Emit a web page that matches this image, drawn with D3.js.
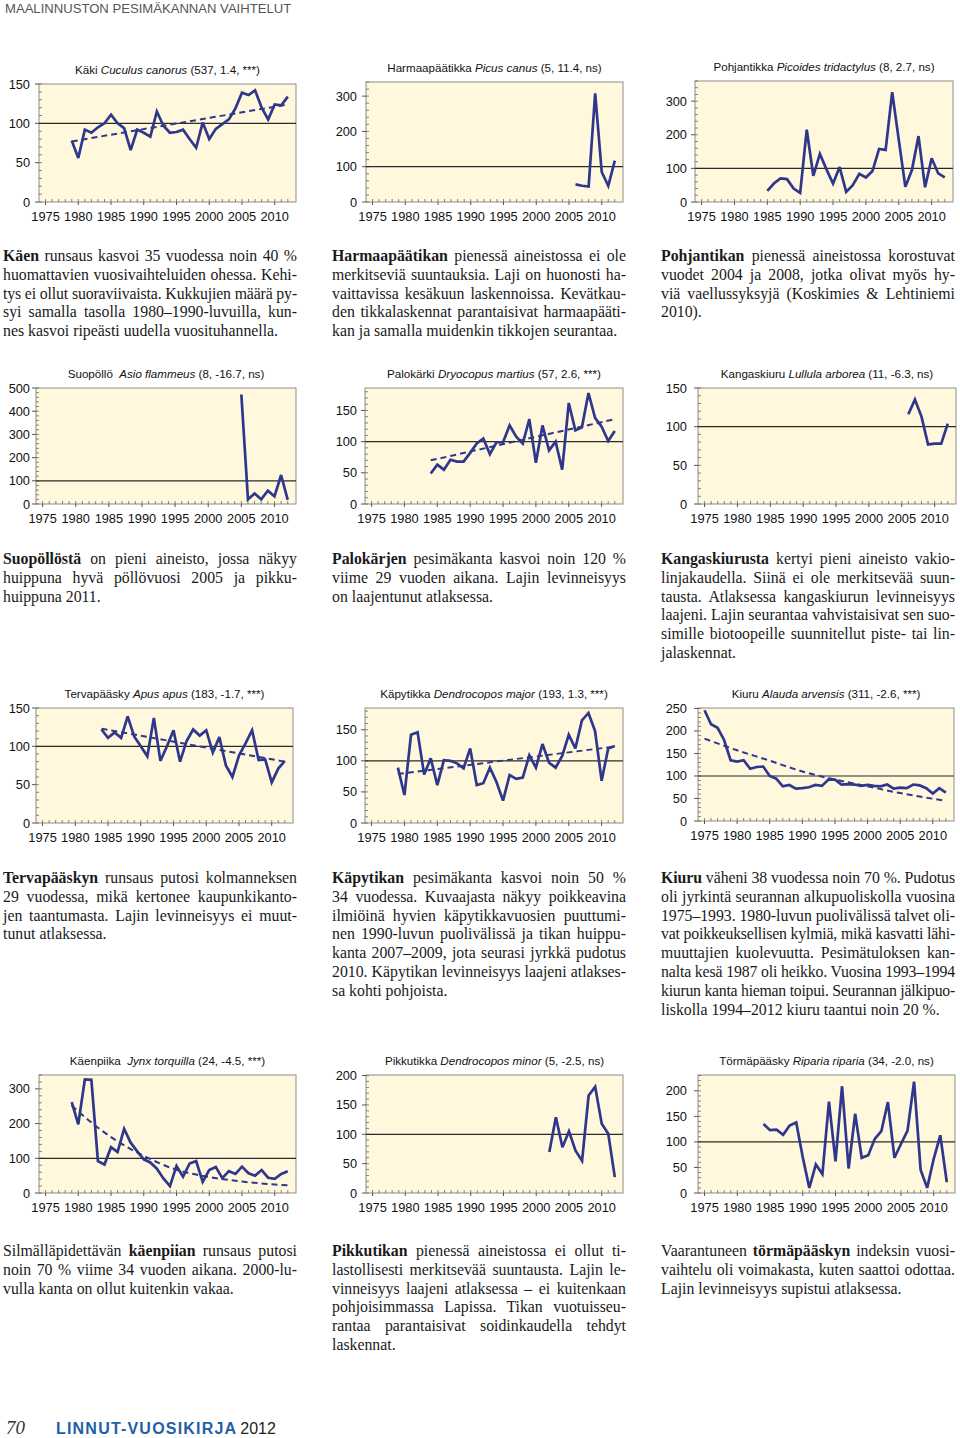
<!DOCTYPE html>
<html><head><meta charset="utf-8">
<script src="https://cdn.jsdelivr.net/npm/d3@7"></script>
<style>
body{margin:0;background:#fff;}
svg{display:block;}
</style></head><body>
<svg id="page" width="960" height="1438"></svg>
<script>
// ---------- DATA ----------
const tickYears = [1975, 1980, 1985, 1990, 1995, 2000, 2005, 2010];

const kakiStart = 1979;
const kakiValues = [78,56,92,88,95,100,111,100,94,66,92,88,83,115,97,88,89,92,80,69,101,80,93,99,105,119,139,136,142,120,105,124,123,134];
const kakiTrend = [[1979,77],[2012,124]];

const harmaaStart = 2006;
const harmaaValues = [50,46,44,308,85,46,117];

const pohjanStart = 1985;
const pohjanValues = [33,55,70,68,40,27,215,78,143,97,55,104,30,50,84,73,92,158,155,327,185,45,95,196,44,130,85,73];

const suopolloStart = 2005;
const suopolloValues = [472,20,45,20,57,33,125,18];

const palokarkiStart = 1984;
const palokarkiValues = [49,63,55,71,68,68,82,97,105,80,99,99,126,108,97,136,66,126,86,100,55,162,118,123,178,138,124,101,117];
const palokarkiTrend = [[1984,70],[2012,136]];

const kangasStart = 2006;
const kangasValues = [116,135,113,77,78,78,104];

const tervaStart = 1984;
const tervaValues = [122,111,118,111,139,113,100,87,137,81,100,121,80,107,122,114,121,92,112,75,60,88,104,121,82,83,53,71,81];
const tervaTrend = [[1984,123],[2012,80]];

const kapyStart = 1979;
const kapyValues = [89,45,142,146,78,104,61,101,100,96,88,120,61,64,89,66,36,77,71,73,109,89,127,97,89,108,142,120,165,177,148,68,120,124];
const kapyTrend = [[1979,79],[2012,123]];

const kiuruStart = 1975;
const kiuruValues = [246,215,207,180,135,132,135,116,120,121,100,94,77,80,72,73,75,80,78,92,92,81,82,81,78,80,78,77,81,72,74,73,81,79,73,61,73,63];
const kiuruTrend = [[1975,183],[1980,157],[1985,134],[1990,110],[1995,92],[2000,77],[2005,62],[2012,45]];

const kaenpiikaStart = 1979;
const kaenpiikaValues = [262,198,327,326,92,82,132,118,185,145,120,97,88,70,42,20,78,47,85,92,32,66,75,43,63,55,76,57,50,66,44,41,55,63];
const kaenpiikaTrend = [[1979,252],[1980,235],[1985,161],[1990,107],[1995,67],[2000,46],[2005,33],[2012,22]];

const pikkuStart = 2002;
const pikkuValues = [70,129,78,105,72,55,166,181,118,101,27];

const tormaStart = 1984;
const tormaValues = [135,123,124,114,132,138,70,10,56,37,179,62,209,48,155,69,74,106,121,178,69,96,122,218,45,10,67,113,21];

const titleNames = ["Käki","Harmaapäätikka","Pohjantikka","Suopöllö\u00a0","Palokärki","Kangaskiuru","Tervapääsky","Käpytikka","Kiuru","Käenpiika\u00a0","Pikkutikka","Törmäpääsky"];
const titleLatin = ["Cuculus canorus","Picus canus","Picoides tridactylus","Asio flammeus","Dryocopus martius","Lullula arborea","Apus apus","Dendrocopos major","Alauda arvensis","Jynx torquilla","Dendrocopos minor","Riparia riparia"];
const titleStats = ["(537, 1.4, ***)","(5, 11.4, ns)","(8, 2.7, ns)","(8, -16.7, ns)","(57, 2.6, ***)","(11, -6.3, ns)","(183, -1.7, ***)","(193, 1.3, ***)","(311, -2.6, ***)","(24, -4.5, ***)","(5, -2.5, ns)","(34, -2.0, ns)"];

const yTicks1 = [0,50,100,150];
const yTicks2 = [0,100,200,300];
const yTicks3 = [0,100,200,300,400,500];
const yTicks4 = [0,50,100,150,200,250];
const yTicks5 = [0,50,100,150,200];

const paraRow1 = [
 ["**Käen** runsaus kasvoi 35 vuodessa noin 40 %","huomattavien vuosivaihteluiden ohessa. Kehi-","tys ei ollut suoraviivaista. Kukkujien määrä py-","syi samalla tasolla 1980–1990-luvuilla, kun-","nes kasvoi ripeästi uudella vuosituhannella."],
 ["**Harmaapäätikan** pienessä aineistossa ei ole","merkitseviä suuntauksia. Laji on huonosti ha-","vaittavissa kesäkuun laskennoissa. Kevätkau-","den tikkalaskennat parantaisivat harmaapääti-","kan ja samalla muidenkin tikkojen seurantaa."],
 ["**Pohjantikan** pienessä aineistossa korostuvat","vuodet 2004 ja 2008, jotka olivat myös hy-","viä vaellussyksyjä (Koskimies & Lehtiniemi","2010)."]
];
const paraRow2 = [
 ["**Suopöllöstä** on pieni aineisto, jossa näkyy","huippuna hyvä pöllövuosi 2005 ja pikku-","huippuna 2011."],
 ["**Palokärjen** pesimäkanta kasvoi noin 120 %","viime 29 vuoden aikana. Lajin levinneisyys","on laajentunut atlaksessa."],
 ["**Kangaskiurusta** kertyi pieni aineisto vakio-","linjakaudella. Siinä ei ole merkitsevää suun-","tausta. Atlaksessa kangaskiurun levinneisyys","laajeni. Lajin seurantaa vahvistaisivat sen suo-","simille biotoopeille suunnitellut piste- tai lin-","jalaskennat."]
];
const paraRow3 = [
 ["**Tervapääskyn** runsaus putosi kolmanneksen","29 vuodessa, mikä kertonee kaupunkikanto-","jen taantumasta. Lajin levinneisyys ei muut-","tunut atlaksessa."],
 ["**Käpytikan** pesimäkanta kasvoi noin 50 %","34 vuodessa. Kuvaajasta näkyy poikkeavina","ilmiöinä hyvien käpytikkavuosien puuttumi-","nen 1990-luvun puolivälissä ja tikan huippu-","kanta 2007–2009, jota seurasi jyrkkä pudotus","2010. Käpytikan levinneisyys laajeni atlakses-","sa kohti pohjoista."],
 ["**Kiuru** väheni 38 vuodessa noin 70 %. Pudotus","oli jyrkintä seurannan alkupuoliskolla vuosina","1975–1993. 1980-luvun puolivälissä talvet oli-","vat poikkeuksellisen kylmiä, mikä kasvatti lähi-","muuttajien kuolevuutta. Pesimätuloksen kan-","nalta kesä 1987 oli heikko. Vuosina 1993–1994","kiurun kanta hieman toipui. Seurannan jälkipuo-","liskolla 1994–2012 kiuru taantui noin 20 %."]
];
const paraRow4 = [
 ["Silmälläpidettävän **käenpiian** runsaus putosi","noin 70 % viime 34 vuoden aikana. 2000-lu-","vulla kanta on ollut kuitenkin vakaa."],
 ["**Pikkutikan** pienessä aineistossa ei ollut ti-","lastollisesti merkitsevää suuntausta. Lajin le-","vinneisyys laajeni atlaksessa – ei kuitenkaan","pohjoisimmassa Lapissa. Tikan vuotuisseu-","rantaa parantaisivat soidinkaudella tehdyt","laskennat."],
 ["Vaarantuneen **törmäpääskyn** indeksin vuosi-","vaihtelu oli voimakasta, kuten saattoi odottaa.","Lajin levinneisyys supistui atlaksessa."]
];

// ---------- LAYOUT ----------
const charts = [
 {i:0, start:kakiStart, values:kakiValues, trend:kakiTrend, box:[39,84,296,202], yMax:150, ticks:yTicks1, minor:10, lx:30},
 {i:1, start:harmaaStart, values:harmaaValues, trend:null, box:[366,82,623,202], yMax:340, ticks:yTicks2, minor:20, lx:357},
 {i:2, start:pohjanStart, values:pohjanValues, trend:null, box:[695,81,953,202], yMax:360, ticks:yTicks2, minor:20, lx:687},
 {i:3, start:suopolloStart, values:suopolloValues, trend:null, box:[36,388,296,504], yMax:500, ticks:yTicks3, minor:20, lx:30},
 {i:4, start:palokarkiStart, values:palokarkiValues, trend:palokarkiTrend, box:[365,388,623,504], yMax:186, ticks:yTicks1, minor:10, lx:357},
 {i:5, start:kangasStart, values:kangasValues, trend:null, box:[698,388,956,504], yMax:150, ticks:yTicks1, minor:10, lx:687},
 {i:6, start:tervaStart, values:tervaValues, trend:tervaTrend, box:[36,708,293,823], yMax:150, ticks:yTicks1, minor:10, lx:30},
 {i:7, start:kapyStart, values:kapyValues, trend:kapyTrend, box:[365,708,623,823], yMax:185, ticks:yTicks1, minor:10, lx:357},
 {i:8, start:kiuruStart, values:kiuruValues, trend:kiuruTrend, box:[698,708,954,821], yMax:251, ticks:yTicks4, minor:10, lx:687},
 {i:9, start:kaenpiikaStart, values:kaenpiikaValues, trend:kaenpiikaTrend, box:[39,1075,296,1193], yMax:340, ticks:yTicks2, minor:20, lx:30},
 {i:10, start:pikkuStart, values:pikkuValues, trend:null, box:[366,1075,623,1193], yMax:201, ticks:yTicks5, minor:10, lx:357},
 {i:11, start:tormaStart, values:tormaValues, trend:null, box:[698,1075,955,1193], yMax:231, ticks:yTicks5, minor:10, lx:687}
];

const LINE = "#2e378c";
const svg = d3.select("#page");

// header
svg.append("text").attr("x",5).attr("y",13).attr("font-family","Liberation Sans, Arial, sans-serif")
  .attr("font-size",13.1).attr("fill","#555").text("MAALINNUSTON PESIMÄKANNAN VAIHTELUT");

charts.forEach(c => {
  const [x0,y0,x1,y1] = c.box;
  const g = svg.append("g");
  const x = d3.scaleLinear().domain([1974, 2013.25]).range([x0, x1]);
  const y = d3.scaleLinear().domain([0, c.yMax]).range([y1, y0]);
  const data = c.values.map((v,k) => ({year: c.start + k, v}));

  g.append("rect").attr("x",x0).attr("y",y0).attr("width",x1-x0).attr("height",y1-y0)
    .attr("fill","#fff8dc").attr("stroke","#8c8c8c").attr("stroke-width",1);

  const minors = d3.range(0, c.yMax + 0.01, c.minor);
  g.selectAll(".my").data(minors).join("line")
    .attr("x1",x0).attr("x2",x0+3).attr("y1",d=>y(d)).attr("y2",d=>y(d))
    .attr("stroke","#666").attr("stroke-width",0.8);
  g.selectAll(".My").data(c.ticks).join("line")
    .attr("x1",x0-4).attr("x2",x0).attr("y1",d=>y(d)).attr("y2",d=>y(d))
    .attr("stroke","#555").attr("stroke-width",1);
  g.selectAll(".yl").data(c.ticks).join("text")
    .attr("x",c.lx).attr("y",d=>y(d)+4.5).attr("text-anchor","end")
    .attr("font-family","Liberation Sans, Arial, sans-serif").attr("font-size",12.8).attr("fill","#111")
    .text(d=>d);

  const yrs = d3.range(1975, 2013);
  g.selectAll(".mx").data(yrs).join("line")
    .attr("x1",d=>x(d)).attr("x2",d=>x(d)).attr("y1",y1).attr("y2",y1-3)
    .attr("stroke","#666").attr("stroke-width",0.8);
  g.selectAll(".Mx").data(tickYears).join("line")
    .attr("x1",d=>x(d)).attr("x2",d=>x(d)).attr("y1",y1).attr("y2",y1+3)
    .attr("stroke","#555").attr("stroke-width",1);
  g.selectAll(".xl").data(tickYears).join("text")
    .attr("x",d=>x(d)).attr("y",y1+19).attr("text-anchor","middle")
    .attr("font-family","Liberation Sans, Arial, sans-serif").attr("font-size",12.8).attr("fill","#111")
    .text(d=>d);

  g.append("line").attr("x1",x0).attr("x2",x1).attr("y1",y(100)).attr("y2",y(100))
    .attr("stroke","#2a2a2a").attr("stroke-width",1.2);

  if (c.trend) {
    g.append("path").datum(c.trend)
      .attr("d", d3.line().x(d=>x(d[0])).y(d=>y(d[1])).curve(d3.curveMonotoneX))
      .attr("fill","none").attr("stroke",LINE).attr("stroke-width",2).attr("stroke-dasharray","6,4");
  }
  g.append("path").datum(data)
    .attr("d", d3.line().x(d=>x(d.year)).y(d=>y(d.v)))
    .attr("fill","none").attr("stroke",LINE).attr("stroke-width",2.7)
    .attr("stroke-linejoin","miter").attr("stroke-miterlimit",3);

  const t = g.append("text").attr("x",(x0+x1)/2).attr("y",y0-10).attr("text-anchor","middle")
    .attr("font-family","Liberation Sans, Arial, sans-serif").attr("font-size",11.6).attr("fill","#111")
    .style("white-space","pre");
  t.append("tspan").text(titleNames[c.i] + " ");
  t.append("tspan").attr("font-style","italic").text(titleLatin[c.i]);
  t.append("tspan").text(" " + titleStats[c.i]);
});

// paragraphs (justified line by line)
const colX = [3, 332, 661];
const colW = [294, 294, 294];
function drawPara(lines, col, baseY) {
  const lh = 18.8;
  lines.forEach((ln, k) => {
    const t = svg.append("text").attr("x", colX[col]).attr("y", baseY + k*lh)
      .attr("font-family","Liberation Serif, Times New Roman, serif").attr("font-size",15.8).attr("fill","#1a1a1a")
      .style("white-space","pre");
    const parts = ln.split("**");
    parts.forEach((p, j) => {
      if (!p) return;
      const s = t.append("tspan").text(p);
      if (j % 2 === 1) s.attr("font-weight","bold");
    });
    let len = t.node().getComputedTextLength();
    const nch = ln.replace(/\*\*/g,"").length;
    if (len > colW[col]) {
      // tighten letters first so word spaces stay natural
      const ls = (colW[col] - len) / (nch - 1);
      t.style("letter-spacing", ls + "px");
      len = t.node().getComputedTextLength();
    }
    if (k < lines.length - 1) {
      const spaces = (ln.match(/ /g) || []).length;
      if (spaces > 0) t.style("word-spacing", ((colW[col] - len) / spaces) + "px");
    }
  });
}
[paraRow1, paraRow2, paraRow3, paraRow4].forEach((row, r) => {
  const by = [261, 564, 883, 1256][r];
  row.forEach((lines, col) => drawPara(lines, col, by));
});

// footer
svg.append("text").attr("x",6).attr("y",1434).attr("font-family","Liberation Serif, serif").attr("font-style","italic")
  .attr("font-size",19).attr("fill","#333").text("70");
const f = svg.append("text").attr("x",56).attr("y",1434).attr("font-family","Liberation Sans, Arial, sans-serif").attr("font-size",16);
f.append("tspan").attr("font-weight","bold").attr("fill","#1f5fa8").attr("letter-spacing",1.2).text("LINNUT-VUOSIKIRJA");
f.append("tspan").attr("fill","#222").attr("dx",3).text("2012");
</script>
</body></html>
